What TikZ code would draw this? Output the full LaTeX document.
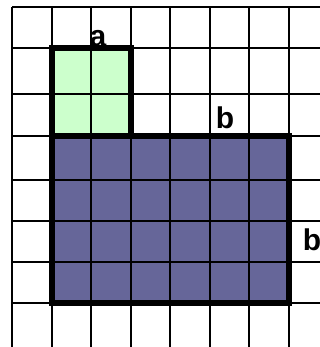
\documentclass[tikz,border=0pt]{standalone}
\usepackage{fontspec}
\setmainfont{Liberation Sans}
\definecolor{palegreen}{RGB}{204,255,204}
\definecolor{slateblue}{RGB}{102,102,153}
\tikzset{
  gridline/.style={line width=2.2},
  edge/.style={line width=5.5},
  side/.style={anchor=base,inner sep=0,font=\fontsize{30}{36}\selectfont\bfseries}
}
\begin{document}
\begin{tikzpicture}[x=1pt,y=-1pt]
	\useasboundingbox (0,0) rectangle (320,347);

	% the two squares
	\fill[palegreen] (52,48) rectangle (131,136);
	\fill[slateblue] (52,136) rectangle (289,303);

	%\draw[step=40,gray,very thin] (0,0) grid (320,347);
	\foreach \y in {7,48,94,136,180,221,262,303}
		\draw[gridline] (12,\y) -- (320,\y);
	\foreach \x in {12,52,91,131,170,210,249,289}
		\draw[gridline] (\x,7) -- (\x,347);

	\draw[edge] (52,48) -- (131,48) -- (131,136) -- (289,136)
		-- (289,303) -- (52,303) -- cycle;
	\draw[edge] (52,136) -- (131,136);

	\node (a) at (98,47) [side] {a};
	\node (btop) at (225,129) [side] {b};
	\node (bright) at (312,250) [side] {b};

\end{tikzpicture}
\end{document}
